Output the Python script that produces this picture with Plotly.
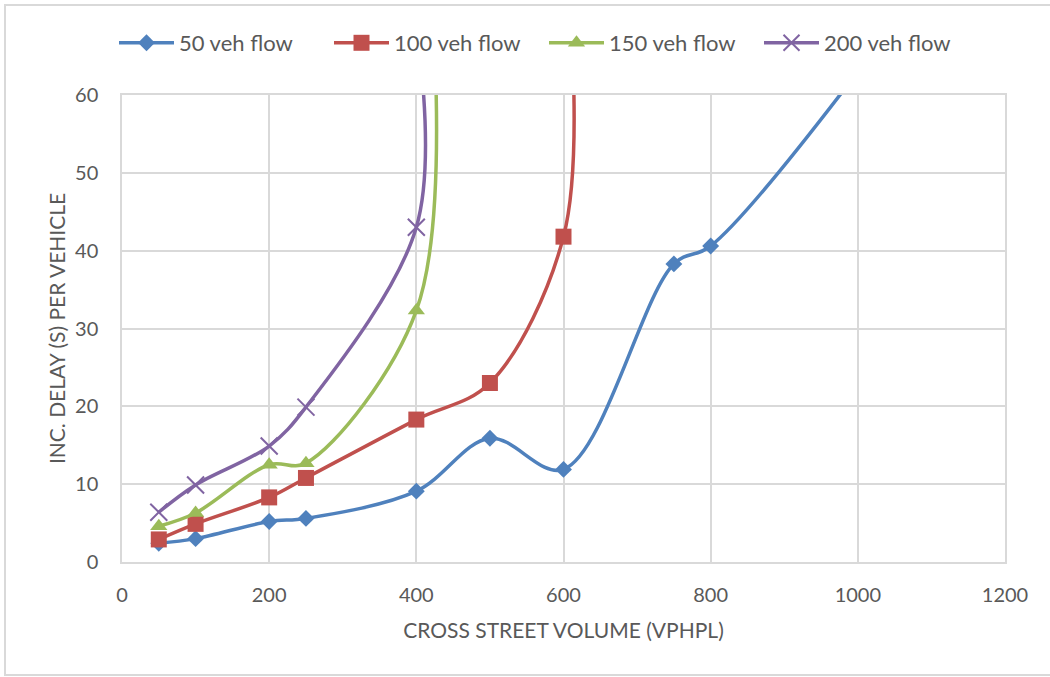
import plotly.graph_objects as go

# Data (last point of each series lies just above the visible range)
x_50 = [50, 100, 200, 250, 400, 500, 600, 750, 800, 1000]
y_50 = [2.4, 3.0, 5.2, 5.6, 9.1, 15.9, 11.9, 38.3, 40.6, 63.0]

x_100 = [50, 100, 200, 250, 400, 500, 600, 612]
y_100 = [2.9, 4.9, 8.3, 10.8, 18.3, 23.0, 41.8, 66.0]

x_150 = [50, 100, 200, 250, 400, 425]
y_150 = [4.6, 6.3, 12.5, 12.7, 32.3, 66.0]

x_200 = [50, 100, 200, 250, 400, 404]
y_200 = [6.4, 9.9, 14.9, 19.9, 43.0, 66.0]

names = ["50 veh flow", "100 veh flow", "150 veh flow", "200 veh flow"]
colors = ["#4F81BD", "#C0504D", "#9BBB59", "#8064A2"]
symbols = ["diamond", "square", "triangle-up", "x-thin"]
sizes = [13, 16, 15, 17]

FONT = "Lato"
TXT = "#595959"
GRID = "#D9D9D9"

fig = go.Figure()
for xs, ys, n, c, s, sz in zip([x_50, x_100, x_150, x_200],
                               [y_50, y_100, y_150, y_200],
                               names, colors, symbols, sizes):
    fig.add_trace(go.Scatter(
        x=xs, y=ys, name=n, mode="lines+markers",
        line=dict(color=c, width=3.5, shape="spline", smoothing=1.0),
        marker=dict(symbol=s, size=sz, color=c,
                    line=dict(color=c, width=2 if s == "x-thin" else 0)),
        cliponaxis=True,
    ))

L, R, T, B = 122, 45, 95, 115
W, H = 1050, 677
pw, ph = W - L - R, H - T - B

def px(xp):
    return (xp - L) / pw

def py(yp):
    return (H - B - yp) / ph

fig.update_layout(
    width=W, height=H,
    margin=dict(l=L, r=R, t=T, b=B),
    paper_bgcolor="white", plot_bgcolor="white",
    font=dict(family=FONT, color=TXT, size=20),
    showlegend=True,
    legend=dict(orientation="h", x=px(114), xanchor="left", y=py(43), yanchor="middle",
                font=dict(size=22, color=TXT, family=FONT),
                entrywidth=145, entrywidthmode="pixels", itemwidth=55,
                bgcolor="rgba(0,0,0,0)"),
    xaxis=dict(range=[0, 1200], tickvals=[0, 200, 400, 600, 800, 1000, 1200],
               showgrid=True, gridcolor=GRID, gridwidth=1.5,
               zeroline=False, showline=True, linecolor=GRID, linewidth=1.5, mirror=True,
               ticks="", ticklabelstandoff=14, tickfont=dict(size=20, color=TXT, family=FONT),
               title=dict(text="CROSS STREET VOLUME (VPHPL)", standoff=19,
                          font=dict(size=21, color=TXT, family=FONT))),
    yaxis=dict(range=[0, 60], tickvals=[0, 10, 20, 30, 40, 50, 60],
               showgrid=True, gridcolor=GRID, gridwidth=1.5,
               zeroline=False, showline=True, linecolor=GRID, linewidth=1.5, mirror=True,
               ticks="", ticklabelstandoff=18, tickfont=dict(size=20, color=TXT, family=FONT),
               title=dict(text="INC. DELAY (S) PER VEHICLE", standoff=4,
                          font=dict(size=21, color=TXT, family=FONT))),
    shapes=[dict(type="rect", xref="paper", yref="paper",
                 x0=px(5), x1=px(1060), y0=py(675), y1=py(5),
                 line=dict(color="#D9D9D9", width=2), fillcolor="rgba(0,0,0,0)",
                 layer="below")],
)

fig.write_html("out.html")
